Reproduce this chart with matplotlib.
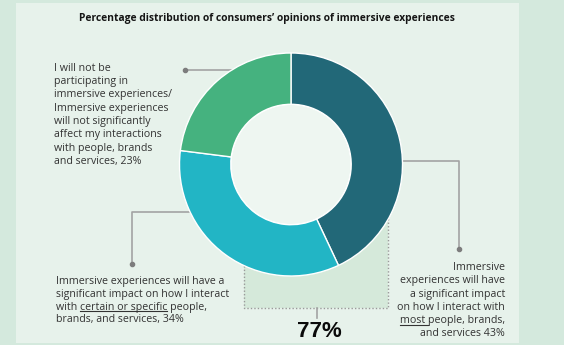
import matplotlib.pyplot as plt
from matplotlib.patches import Rectangle, Circle

# data
shares = [43, 34, 23]
slice_colors = ["#226878", "#22b5c5", "#45b27f"]
title = "Percentage distribution of consumers\u2019 opinions of immersive experiences"
total_label = "77%"

green_lines = ["I will not be", "participating in", "immersive experiences/",
               "Immersive experiences", "will not significantly",
               "affect my interactions", "with people, brands",
               "and services, 23%"]
cyan_lines = ["Immersive experiences will have a",
              "significant impact on how I interact",
              "with certain or specific people,",
              "brands, and services, 34%"]
dark_lines = ["Immersive", "experiences will have", "a significant impact",
              "on how I interact with", "most people, brands,",
              "and services 43%"]

W, H = 564, 345
FONT = "Open Sans"
FS = 7.7
TXT = "#333333"
LEAD = "#a3a3a3"

fig = plt.figure(figsize=(W / 100, H / 100), dpi=100)
fig.patch.set_facecolor("#d4e9dd")

# pixel axes for everything except the donut
ax = fig.add_axes([0, 0, 1, 1])
ax.set_xlim(0, W)
ax.set_ylim(H, 0)
ax.axis("off")

ax.add_patch(Rectangle((16, 3), 503, 340, fc="#e7f2eb", ec="none", zorder=0))

# shaded "77%" box behind the donut
ax.add_patch(Rectangle((244, 165), 144, 143, fc="#d5e9da", ec="none", zorder=1))
ax.plot([244, 244, 388, 388], [165, 308, 308, 165], ls=(0, (1, 1.5)),
        color="#9a9a9a", lw=1, zorder=2)
ax.plot([317, 317], [308, 318], color=LEAD, lw=1.2, zorder=2)
ax.text(319, 337, total_label, ha="center", va="baseline", fontsize=16,
        fontweight="bold", family="Liberation Sans", color="#0a0a0a")

ax.text(267, 20.5, title, ha="center", va="baseline", fontsize=7.4,
        fontweight="bold", family=FONT, color="#151515")

# leader lines
ax.plot([185, 240], [69.5, 69.5], color=LEAD, lw=1.2, zorder=2)
ax.plot([225, 132, 132], [212, 212, 264], color=LEAD, lw=1.2, zorder=2)
ax.plot([390, 459, 459], [161, 161, 249], color=LEAD, lw=1.2, zorder=2)
ax.plot([185, 132, 459], [69.5, 264, 249], "o", ms=3, color="#7d7d7d", zorder=3)

fig.canvas.draw()
rend = fig.canvas.get_renderer()


def width(s):
    t = ax.text(0, 0, s, fontsize=FS, family=FONT)
    w = t.get_window_extent(rend).width
    t.remove()
    return w


def draw_lines(lines, x, y0, step, ha):
    for i, s in enumerate(lines):
        ax.text(x, y0 + i * step, s, ha=ha, va="baseline", fontsize=FS,
                family=FONT, color=TXT)


draw_lines(green_lines, 54.5, 70.7, 13.3, "left")
draw_lines(cyan_lines, 55.7, 284, 12.8, "left")
draw_lines(dark_lines, 505, 270.3, 13.2, "right")

# underlines
u0 = 55.7 + width("with certain") - width("certain")
u1 = 55.7 + width("with certain or specific")
ax.plot([u0, u1], [311.4, 311.4], color=TXT, lw=0.8)
u0 = 505 - width(dark_lines[4])
u1 = u0 + width("most p") - width("p")
ax.plot([u0, u1], [325, 325], color=TXT, lw=0.8)

# donut
cx, cy, r = 291, 164.5, 111.5
half = 1.25 * r
pax = fig.add_axes([(cx - half) / W, (H - cy - half) / H, 2 * half / W, 2 * half / H])
pax.patch.set_alpha(0)
pax.pie(shares, colors=slice_colors, startangle=90, counterclock=False,
        wedgeprops=dict(width=0.46, edgecolor="white", linewidth=1))
pax.add_patch(Circle((0, 0), 0.54, fc="#eef6f1", ec="white", lw=1, zorder=0))
pax.set_xlim(-1.25, 1.25)
pax.set_ylim(-1.25, 1.25)
pax.axis("off")

fig.savefig("out.png", dpi=100, facecolor=fig.get_facecolor())
